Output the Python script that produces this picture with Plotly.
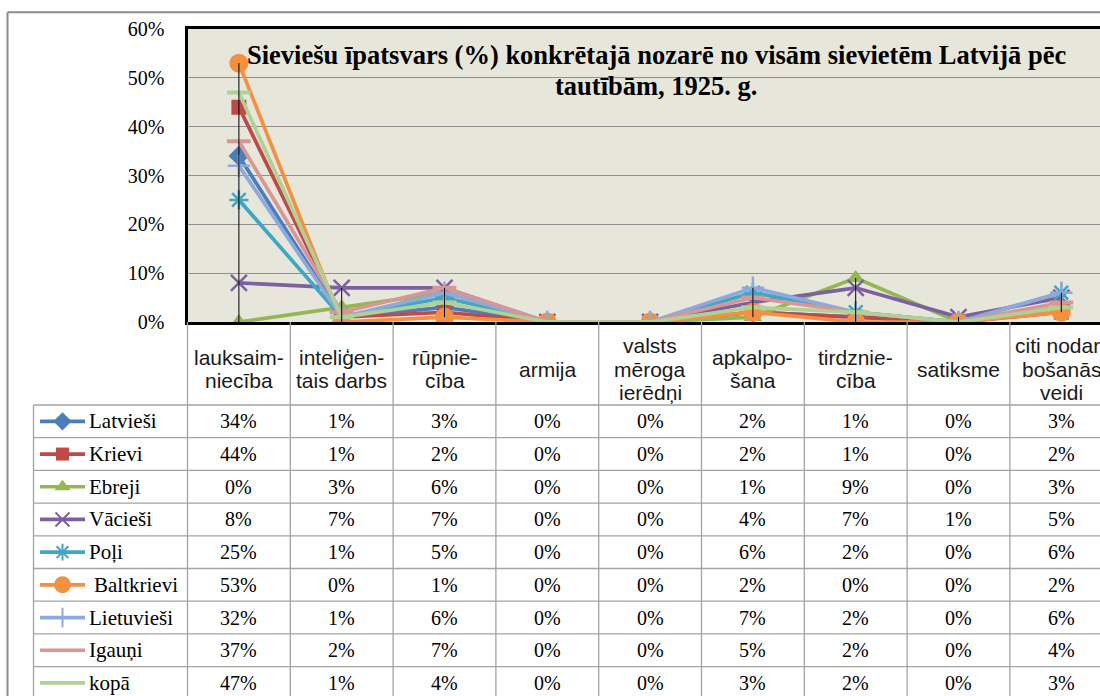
import plotly.graph_objects as go

# ---------------- data ----------------
title_lines = ["Sieviešu īpatsvars (%) konkrētajā nozarē no visām sievietēm Latvijā pēc",
               "tautībām, 1925. g."]
categories = ["lauksaim-\nniecība", "inteliģen-\ntais darbs", "rūpnie-\ncība", "armija",
              "valsts\nmēroga\nierēdņi", "apkalpo-\nšana", "tirdznie-\ncība", "satiksme",
              "citi nodar-\nbošanās\nveidi"]
series_names = ["Latvieši", "Krievi", "Ebreji", "Vācieši", "Poļi", "Baltkrievi",
                "Lietuvieši", "Igauņi", "kopā"]
latviesi   = [34, 1, 3, 0, 0, 2, 1, 0, 3]
krievi     = [44, 1, 2, 0, 0, 2, 1, 0, 2]
ebreji     = [0, 3, 6, 0, 0, 1, 9, 0, 3]
vaciesi    = [8, 7, 7, 0, 0, 4, 7, 1, 5]
poli       = [25, 1, 5, 0, 0, 6, 2, 0, 6]
baltkrievi = [53, 0, 1, 0, 0, 2, 0, 0, 2]
lietuviesi = [32, 1, 6, 0, 0, 7, 2, 0, 6]
igauni     = [37, 2, 7, 0, 0, 5, 2, 0, 4]
kopa       = [47, 1, 4, 0, 0, 3, 2, 0, 3]
values = [latviesi, krievi, ebreji, vaciesi, poli, baltkrievi, lietuviesi, igauni, kopa]
y_ticks = [0, 10, 20, 30, 40, 50, 60]

# ---------------- styles ----------------
colors = ["#4A7EBB", "#BE4B48", "#94B752", "#7D60A0", "#3FA7C2", "#F39140",
          "#8EA9DB", "#D99694", "#B0D196"]
symbols = ["diamond", "square", "triangle-up", "x-thin", "asterisk", "circle",
           "cross-thin", "line-ew", "line-ew"]
msizes = [16, 15, 16, 16, 16, 19, 16, 17, 17]
thin = {"x-thin", "asterisk", "cross-thin", "line-ew"}

W, H = 1100, 696
plot_left = 187.5
col_w = 102.8
y0_px, ytop_px = 322.0, 29.0
row_top = 405.0
row_h = 32.7
tbl_left = 33.5

serif = "Liberation Serif"
sans = "Liberation Sans"

fig = go.Figure()

n = len(categories)
xs = list(range(n))

for k, name in enumerate(series_names):
    sym = symbols[k]
    mline = dict(color=colors[k], width=2.5 if sym in thin else 0)
    if sym == "line-ew":
        mline["width"] = 4
    fig.add_trace(go.Scatter(
        x=xs, y=[v / 100 for v in values[k]], mode="lines+markers", name=name,
        line=dict(color=colors[k], width=3.7),
        marker=dict(symbol=sym, size=msizes[k], color=colors[k], line=mline),
        xaxis="x", yaxis="y"))

# high-low lines
hx, hy = [], []
for i in range(n):
    col = [values[k][i] / 100 for k in range(len(values))]
    hx += [i, i, None]
    hy += [min(col), max(col), None]
fig.add_trace(go.Scatter(x=hx, y=hy, mode="lines", line=dict(color="black", width=1),
                         xaxis="x", yaxis="y", hoverinfo="skip"))

# legend keys in table (pixel axes)
for k, name in enumerate(series_names):
    yc = row_top + row_h * (k + 0.5)
    fig.add_trace(go.Scatter(x=[40, 85], y=[yc, yc], mode="lines",
                             line=dict(color=colors[k], width=3.7),
                             xaxis="x2", yaxis="y2", hoverinfo="skip"))
    sym = symbols[k]
    mline = dict(color=colors[k], width=2 if sym in thin else 0)
    if sym != "line-ew":
        fig.add_trace(go.Scatter(x=[62.5], y=[yc], mode="markers",
                                 marker=dict(symbol=sym, size=msizes[k] - 2, color=colors[k], line=mline),
                                 xaxis="x2", yaxis="y2", hoverinfo="skip"))

shapes = []
annotations = []

# plot area background (paper coords, under everything)
shapes.append(dict(type="rect", xref="paper", yref="paper", x0=plot_left / W, x1=1.02,
                   y0=(H - y0_px) / H, y1=(H - ytop_px) / H, fillcolor="#E7E6DA",
                   line=dict(width=0), layer="below"))
# outer frame
shapes.append(dict(type="line", xref="x2", yref="y2", x0=7.5, x1=W + 5, y0=12.3, y1=12.3,
                   line=dict(color="#8C8C8C", width=2)))
shapes.append(dict(type="line", xref="x2", yref="y2", x0=7.5, x1=7.5, y0=12.3, y1=H + 5,
                   line=dict(color="#8C8C8C", width=2)))

gridc = "#A3A3A3"
# table verticals
for i in range(n + 1):
    xv = plot_left + col_w * i
    shapes.append(dict(type="line", xref="x2", yref="y2", x0=xv, x1=xv, y0=y0_px, y1=H + 5,
                       line=dict(color=gridc, width=1.3)))
shapes.append(dict(type="line", xref="x2", yref="y2", x0=tbl_left, x1=tbl_left,
                   y0=row_top, y1=H + 5, line=dict(color=gridc, width=1.3)))
# table horizontals
for k in range(len(series_names) + 1):
    yh = row_top + row_h * k
    shapes.append(dict(type="line", xref="x2", yref="y2", x0=tbl_left, x1=W + 5, y0=yh, y1=yh,
                       line=dict(color=gridc, width=1.3)))

# title
for j, t in enumerate(title_lines):
    annotations.append(dict(xref="x2", yref="y2", x=656, y=55 + 31 * j, text="<b>" + t + "</b>",
                            showarrow=False, font=dict(family=serif, size=26.5, color="black"),
                            xanchor="center", yanchor="middle"))

# category header
for i, c in enumerate(categories):
    parts = c.split("\n")
    xc = plot_left + col_w * (i + 0.5)
    for j, p in enumerate(parts):
        yc = 369 + (j - (len(parts) - 1) / 2) * 23.5
        annotations.append(dict(xref="x2", yref="y2", x=xc, y=yc, text=p, showarrow=False,
                                font=dict(family=sans, size=21, color="#1a1a1a"),
                                xanchor="center", yanchor="middle"))

# table cells
for k, name in enumerate(series_names):
    yc = row_top + row_h * (k + 0.5)
    annotations.append(dict(xref="x2", yref="y2", x=92 if name == "Baltkrievi" else 87, y=yc,
                            text=name, showarrow=False,
                            font=dict(family=serif, size=21, color="black"),
                            xanchor="left", yanchor="middle"))
    for i in range(n):
        xc = plot_left + col_w * (i + 0.5)
        annotations.append(dict(xref="x2", yref="y2", x=xc, y=yc, text=f"{values[k][i]}%",
                                showarrow=False, font=dict(family=serif, size=20, color="black"),
                                xanchor="center", yanchor="middle"))

x_span = (W - plot_left) / col_w
fig.update_layout(
    width=W, height=H, margin=dict(l=0, r=0, t=0, b=0, autoexpand=False),
    paper_bgcolor="white", plot_bgcolor="rgba(0,0,0,0)",
    showlegend=False,
    xaxis=dict(domain=[plot_left / W, 1], range=[-0.5, -0.5 + x_span], showgrid=False,
               showticklabels=False, zeroline=False, showline=True, linecolor="black",
               linewidth=3, mirror=True, ticks="", anchor="y", fixedrange=True),
    yaxis=dict(domain=[(H - y0_px) / H, (H - ytop_px) / H], range=[0, 0.6],
               tickvals=[t / 100 for t in y_ticks], tickformat=".0%",
               showgrid=True, gridcolor="#8F8F8F", gridwidth=1, zeroline=False,
               showline=True, linecolor="black", linewidth=3, ticks="outside",
               ticklen=16, tickcolor="rgba(0,0,0,0)",
               tickfont=dict(family=serif, size=20, color="black"), anchor="x", fixedrange=True),
    xaxis2=dict(domain=[0, 1], range=[0, W], visible=False, anchor="y2", fixedrange=True),
    yaxis2=dict(domain=[0, 1], range=[H, 0], visible=False, anchor="x2", fixedrange=True),
    shapes=shapes, annotations=annotations,
)

fig.write_html("out.html", config={"displayModeBar": False},
               post_script="document.body.style.margin='0';document.body.style.overflow='hidden';")
